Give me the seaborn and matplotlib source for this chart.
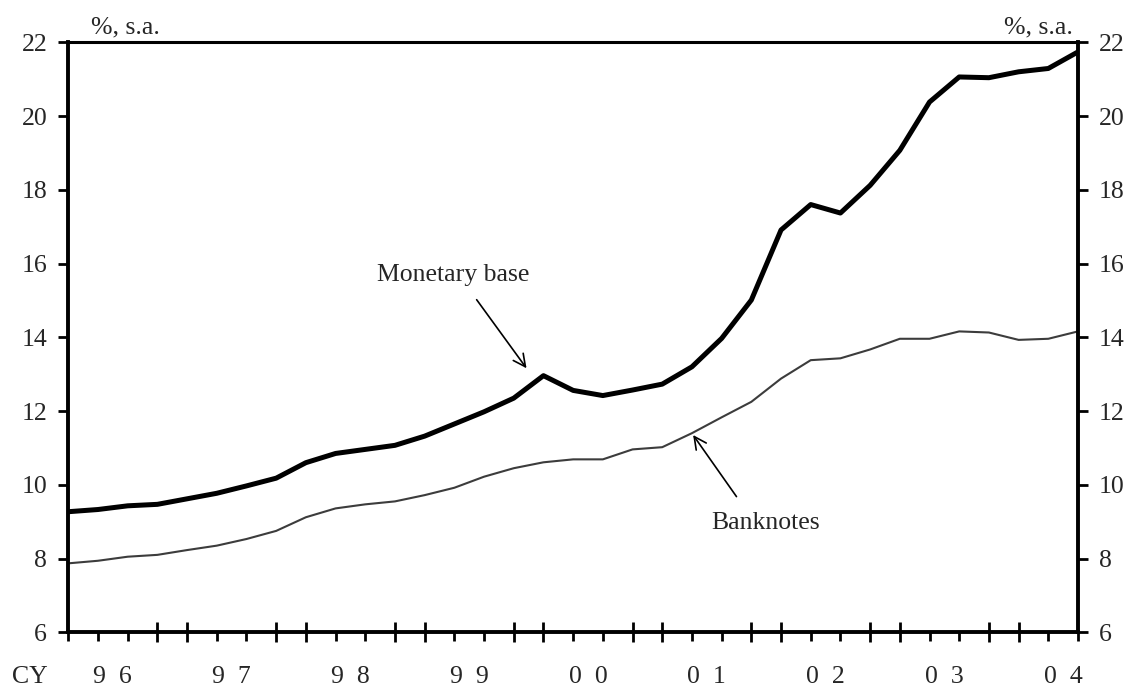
import numpy as np
import pandas as pd
import matplotlib
matplotlib.use("Agg")
import matplotlib.pyplot as plt
import seaborn as sns

# Quarterly data, 1996 Q1 - 2004 Q3 (%, s.a.)
quarters = [f"{y}Q{q}" for y in range(1996, 2005) for q in range(1, 5)][:35]
monetary_base = [9.27, 9.33, 9.43, 9.47, 9.62, 9.77, 9.97, 10.18, 10.60, 10.85,
                 10.96, 11.07, 11.32, 11.65, 11.98, 12.35, 12.96, 12.56, 12.42, 12.57,
                 12.73, 13.20, 13.97, 15.01, 16.91, 17.60, 17.37, 18.12, 19.07, 20.38,
                 21.06, 21.04, 21.20, 21.29, 21.74]
banknotes = [7.87, 7.94, 8.05, 8.10, 8.23, 8.35, 8.53, 8.75, 9.12, 9.36,
             9.47, 9.55, 9.72, 9.92, 10.22, 10.45, 10.61, 10.69, 10.69, 10.96,
             11.02, 11.40, 11.83, 12.25, 12.88, 13.38, 13.43, 13.67, 13.96, 13.96,
             14.16, 14.13, 13.93, 13.96, 14.16]
year_labels = ["9  6", "9  7", "9  8", "9  9", "0  0", "0  1", "0  2", "0  3", "0  4"]
y_ticks = [6, 8, 10, 12, 14, 16, 18, 20, 22]

df = pd.DataFrame({
    "quarter": quarters,
    "pos": np.arange(len(quarters)),
    "Monetary base": monetary_base,
    "Banknotes": banknotes,
})

sns.set_style("ticks")
plt.rcParams["font.family"] = ["Liberation Serif", "DejaVu Serif"]
FS = 18.5

fig = plt.figure(figsize=(11.34, 6.87), dpi=100)
ax = fig.add_axes([68.3 / 1134, 1 - 632.3 / 687, (1078 - 68.3) / 1134, (632.3 - 42.3) / 687])

sns.lineplot(data=df, x="pos", y="Monetary base", ax=ax, color="black", linewidth=3.6)
sns.lineplot(data=df, x="pos", y="Banknotes", ax=ax, color="#3c3c3c", linewidth=1.5)

n = len(quarters)
ax.set_xlim(0, n - 1)
ax.set_ylim(6, 22)
ax.set_xlabel("")
ax.set_ylabel("")

# x ticks: crossing ticks either side of each year boundary, short ones elsewhere
major = [p for p in range(n) if p % 4 in (0, 3) and 0 < p < n - 1]
minor = [p for p in range(n) if p not in major]
ax.set_xticks(major)
ax.set_xticks(minor, minor=True)
ax.tick_params(axis="x", which="major", direction="inout", length=15, width=2,
               labelbottom=False, color="black")
ax.tick_params(axis="x", which="minor", direction="out", length=6.5, width=2,
               labelbottom=False, color="black")

ax.set_yticks(y_ticks)
ax.tick_params(axis="y", direction="out", length=7.2, width=2, labelsize=FS,
               left=True, right=True, labelleft=True, labelright=True, pad=8,
               color="black")

for side in ["left", "right", "bottom"]:
    ax.spines[side].set_visible(True)
    ax.spines[side].set_linewidth(2.8)
    ax.spines[side].set_color("black")
ax.spines["top"].set_visible(True)
ax.spines["top"].set_linewidth(2.2)
ax.spines["top"].set_color("black")

# year labels centred under each year
for k, lab in enumerate(year_labels):
    ax.text(4 * k + 1.5, -0.0859, lab, transform=ax.get_xaxis_transform(),
            ha="center", va="baseline", fontsize=FS)
fig.text(30 / 1134, 1 - 683 / 687, "CY", ha="center", va="baseline", fontsize=FS)

fig.text(125 / 1134, 1 - 33.3 / 687, "%, s.a.", ha="center", va="baseline", fontsize=FS)
fig.text(1038 / 1134, 1 - 33.3 / 687, "%, s.a.", ha="center", va="baseline", fontsize=FS)

# annotations
arrow = dict(arrowstyle="->", color="black", lw=1.2, mutation_scale=22, shrinkA=0, shrinkB=0)
ax.annotate("", xy=(15.43, 13.16), xytext=(13.75, 15.02), arrowprops=arrow)
ax.text(12.95, 15.69, "Monetary base", ha="center", va="center", fontsize=FS)
ax.annotate("", xy=(21.04, 11.35), xytext=(22.5, 9.68), arrowprops=arrow)
ax.text(23.49, 8.96, "Banknotes", ha="center", va="center", fontsize=FS)

fig.savefig("out.png", dpi=100)
